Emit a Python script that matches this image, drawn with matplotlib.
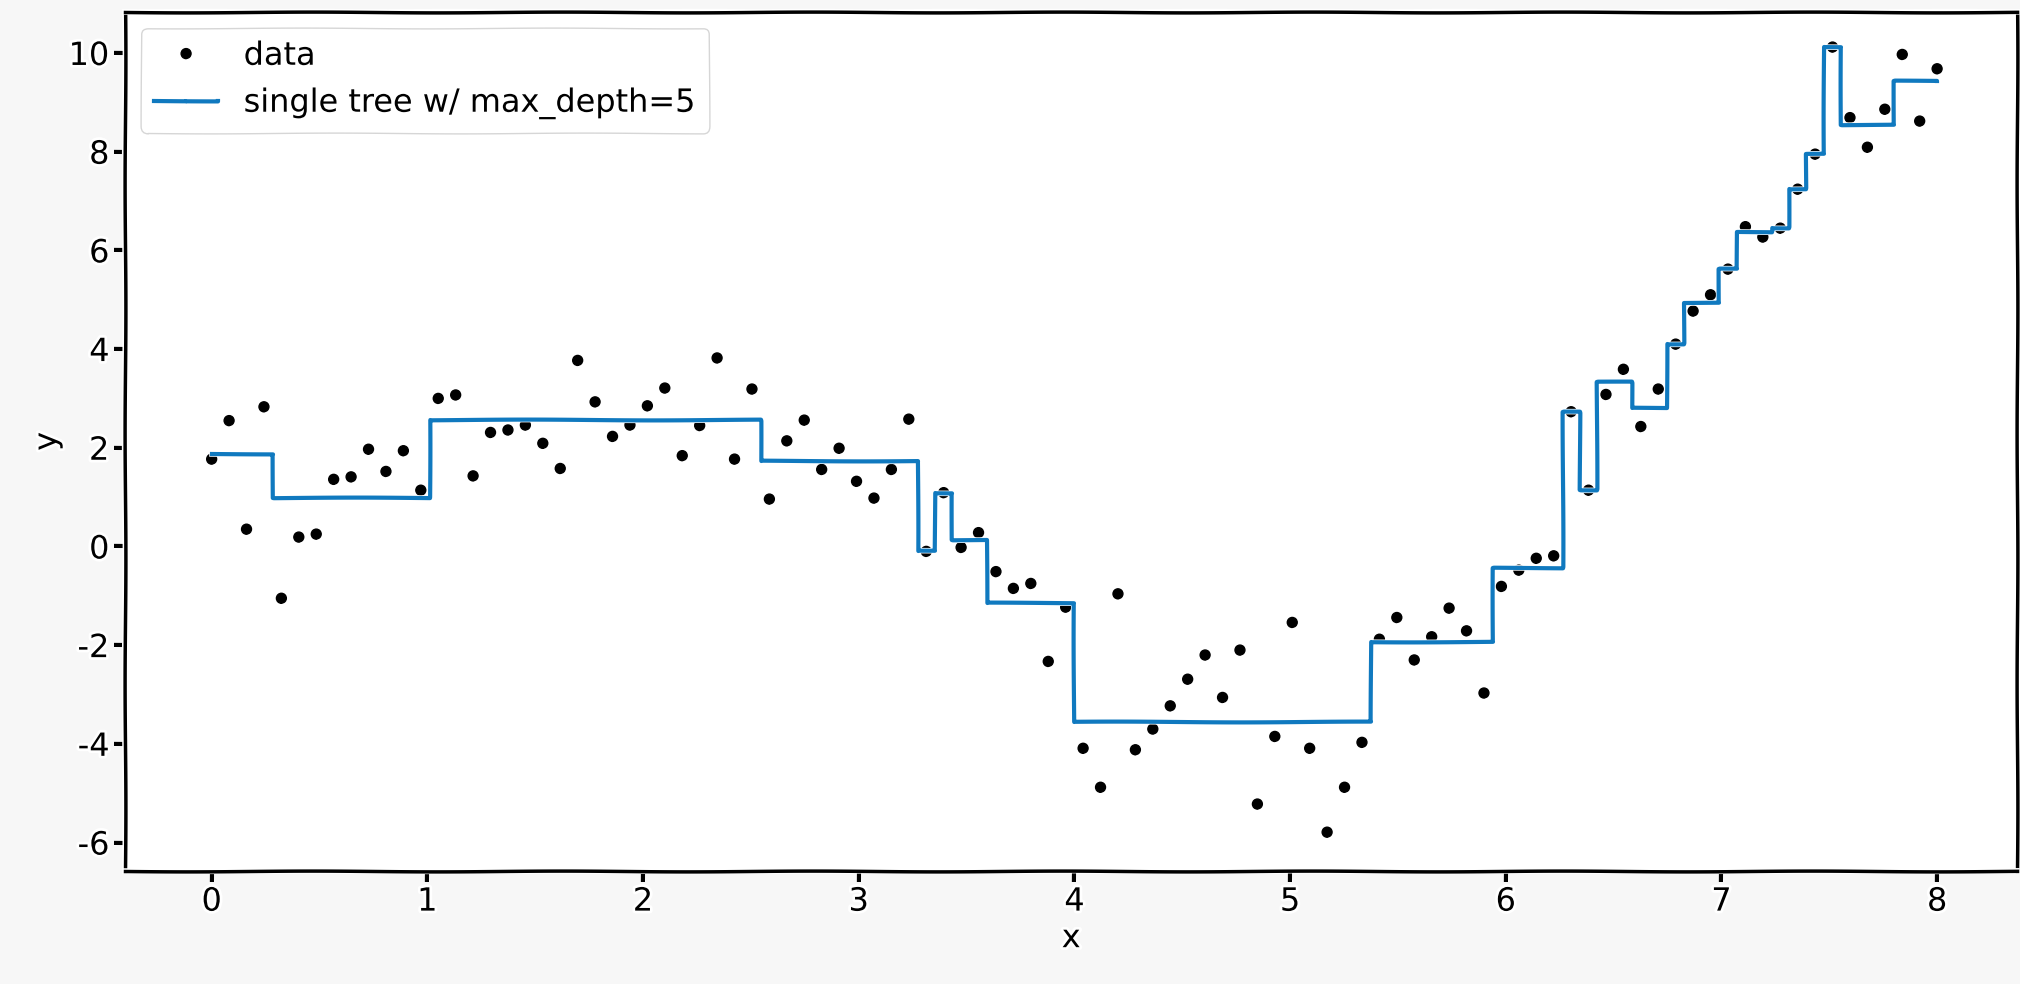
import numpy as np
import matplotlib
matplotlib.use("Agg")
import matplotlib.pyplot as plt

# 100 samples on an even grid from 0 to 8
x_data = np.linspace(0, 8, 100)
y_data = [1.77, 2.55, 0.35, 2.83, -1.05, 0.19, 0.25, 1.36, 1.41, 1.97,
          1.52, 1.94, 1.14, 3.00, 3.07, 1.43, 2.31, 2.36, 2.46, 2.09,
          1.58, 3.77, 2.93, 2.23, 2.46, 2.85, 3.21, 1.84, 2.45, 3.82,
          1.77, 3.19, 0.96, 2.14, 2.56, 1.56, 1.99, 1.32, 0.98, 1.56,
          2.58, -0.10, 1.09, -0.02, 0.28, -0.51, -0.85, -0.75, -2.33, -1.23,
          -4.09, -4.88, -0.96, -4.12, -3.70, -3.23, -2.69, -2.20, -3.06, -2.10,
          -5.22, -3.85, -1.54, -4.09, -5.79, -4.88, -3.97, -1.88, -1.44, -2.30,
          -1.83, -1.25, -1.71, -2.97, -0.81, -0.48, -0.24, -0.19, 2.73, 1.14,
          3.08, 3.59, 2.43, 3.19, 4.10, 4.77, 5.10, 5.62, 6.48, 6.27,
          6.45, 7.24, 7.95, 10.12, 8.69, 8.09, 8.86, 9.97, 8.62, 9.68]

# tree prediction: leaf boundaries and leaf values
tree_edges = [0.0, 0.283, 1.010, 2.545, 3.273, 3.354, 3.434, 3.596, 4.000,
              5.374, 5.939, 6.263, 6.343, 6.424, 6.586, 6.747, 6.828, 6.990,
              7.071, 7.232, 7.313, 7.394, 7.475, 7.556, 7.798, 8.0]
tree_values = [1.87, 0.98, 2.57, 1.74, -0.10, 1.09, 0.13, -1.14, -3.55,
               -1.93, -0.43, 2.73, 1.14, 3.33, 2.81, 4.10, 4.94, 5.62,
               6.38, 6.45, 7.24, 7.95, 10.12, 8.55, 9.43]

plt.xkcd(scale=0.4, length=250, randomness=1)
plt.rcParams['font.family'] = ['DejaVu Sans']
plt.rcParams['axes.unicode_minus'] = False

fig = plt.figure(figsize=(20.2, 9.84), dpi=100, facecolor='#f7f7f7')
ax = fig.add_axes([0.0621, 0.1152, 0.9364, 0.8726])
ax.set_facecolor('white')

ax.plot(x_data, y_data, 'k.', ms=14, label='data')
ax.step(tree_edges, tree_values + [tree_values[-1]], where='post',
        color='#1079bf', lw=3, label='single tree w/ max_depth=5')

ax.set_xlim(-0.4, 8.37)
ax.set_ylim(-6.57, 10.83)
ax.set_xticks(range(9))
ax.set_yticks(range(-6, 11, 2))
ax.tick_params(labelsize=23)
ax.set_xlabel('x', fontsize=23)
ax.set_ylabel('y', fontsize=23)
for s in ax.spines.values():
    s.set_linewidth(2.5)
ax.legend(loc='upper left', fontsize=23)

fig.savefig('out.png', dpi=100, facecolor=fig.get_facecolor())
